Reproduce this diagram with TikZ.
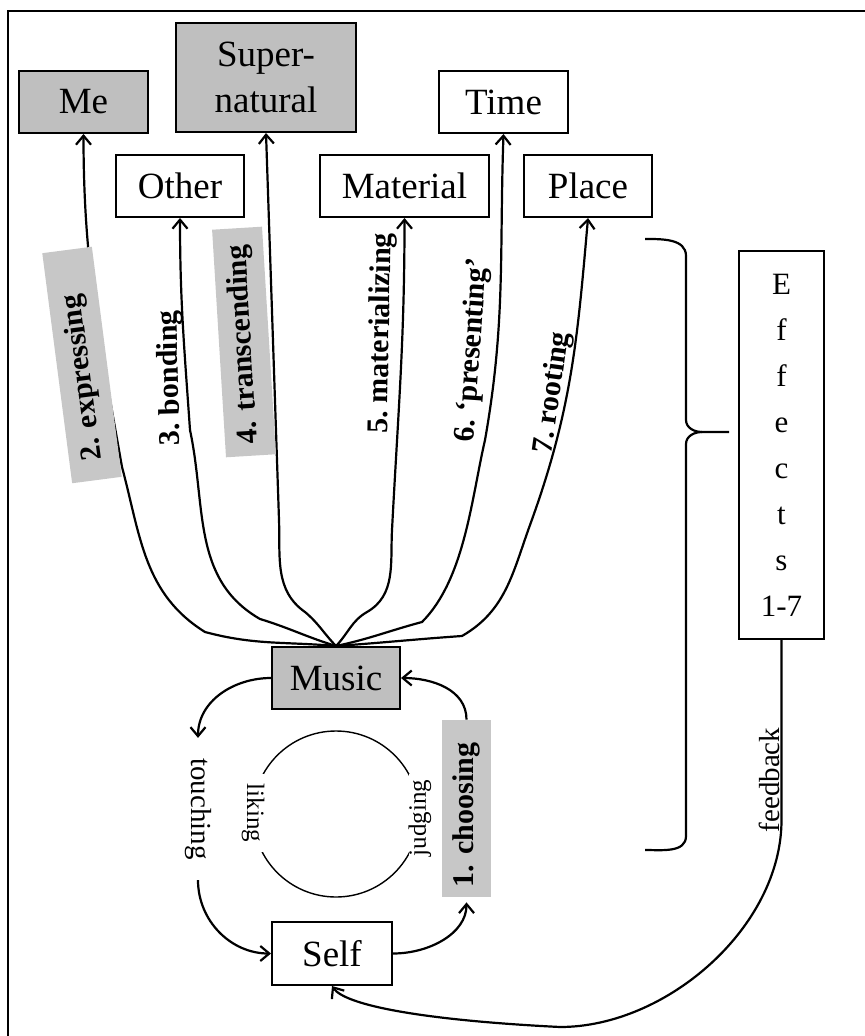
\documentclass[tikz,border=0pt]{standalone}
\usepackage{fontspec}
\setmainfont{Liberation Serif}
\usetikzlibrary{arrows.meta}
\begin{document}
\begin{tikzpicture}[x=0.5pt, y=0.5pt,
  box/.style={draw, line width=1pt, inner sep=0pt, align=center, font=\fontsize{18.5}{23}\selectfont},
  lab/.style={inner sep=0pt, font=\bfseries\fontsize{15}{18}\selectfont\frenchspacing},
  small/.style={inner sep=0pt, font=\fontsize{14.5}{17}\selectfont},
  tiny/.style={inner sep=0pt, fill=white, font=\fontsize{12.5}{15}\selectfont},
  tag/.style={lab, fill=black!22, align=left, inner ysep=0pt, minimum height=25pt},
  link/.style={line width=1.1pt, -{Straight Barb[length=4.5pt,width=7.5pt]}}]

  \useasboundingbox (0,0) rectangle (864,-1036);
  \draw[line width=1pt] (8,-1040) -- (8,-11) -- (870,-11);

  %boxes
  \foreach \name/\x/\y/\w/\h/\txt/\col in {Me/83.5/102/64.5/31/Me/black!25,
      Super/266/77.5/90/54.5/{Super-\\natural}/black!25,
      Other/180/186/64/31/Other/white,
      Material/404.5/186/84.5/31/Material/white,
      Time/503.5/102/64.5/31/Time/white,
      Place/588/186/64/31/Place/white,
      Music/336/678/64/31/Music/black!25,
      Self/332/953.5/60/31.5/Self/white}{
    \node[box, fill=\col, minimum width=\w pt, minimum height=\h pt] (\name) at (\x,-\y) {\txt};
  }
  \node[box, minimum width=42.5pt, minimum height=194pt, font=\fontsize{15.5}{23}\selectfont] (Eff) at (781.5,-445) {E\\f\\f\\e\\c\\t\\s\\1-7};

  %effects 1-7
  \draw[link] (Music.north) to[out=175,in=-15] (205,-632) to[out=148,in=-75] (122,-467) to[out=100,in=-90] (Me.south);
  \draw[link] (Music.north) to[out=163,in=-17] (260,-619) to[out=150,in=-78] (190,-430) to[out=94,in=-90] (Other.south);
  \draw[link] (Music.north) to[out=134,in=-40] (305,-612) to[out=145,in=-88] (279,-520) -- (Super.south);
  \draw[link] (Music.north) to[out=46,in=-150] (367,-612) to[out=30,in=-93] (392,-530) to[out=87,in=-90] (Material.south);
  \draw[link] (Music.north) to[out=12,in=-165] (422,-622) to[out=45,in=-103,looseness=0.8] (485,-440) to[out=80,in=-92] (Time.south);
  \draw[link] (Music.north) to[out=4,in=-176] (462,-636) to[out=30,in=-110] (530,-525) to[out=70,in=-95] (Place.south);

  \node[tag, rotate=97.4, text width=96pt, inner xsep=10pt] (expr) at (82,-365) {2. expressing};
  \node[lab, rotate=91.5] (bond) at (171,-378) {3. bonding};
  \node[tag, rotate=93.5, text width=102pt, inner xsep=6pt] (trans) at (244,-342) {4. transcending};
  \node[lab, rotate=89] (mat) at (382,-333) {5. materializing};
  \node[lab, rotate=86] (pres) at (473,-350) {6. `presenting'};
  \node[lab, rotate=82] (root) at (553,-393) {7. rooting};

  %brace
  \draw[line width=1.1pt] (645,-239) to[out=0,in=90] (686,-256) -- (686,-420) to[out=-90,in=180] (702,-432) -- (729,-432);
  \draw[line width=1.1pt] (702,-432) to[out=180,in=90] (686,-444) -- (686,-836) to[out=-90,in=0] (645,-850);

  %cycle
  \draw[line width=0.7pt] (336,-814) circle[radius=41.5pt];
  \node[tiny, rotate=-90, minimum width=39pt] (like) at (253,-813) {liking};
  \node[tiny, rotate=90, minimum width=44pt] (judge) at (420,-818) {judging};
  \node[small, rotate=-90, inner xsep=10pt] (touch) at (198,-809) {touching};
  \node[tag, rotate=90, minimum height=24.5pt, text width=78.5pt, inner xsep=5pt] (choose) at (466.5,-808.5) {1. choosing};

  \draw[link] (Music.west) to[out=180,in=90] (touch.west);
  \draw[link] (touch.east) to[out=-90,in=180] (Self.west);
  \draw[link, shorten >=2.5pt] (Self.east) to[out=0,in=-90] (choose.west);
  \draw[link] (choose.east) to[out=90,in=0] (Music.east);

  %feedback
  \draw[link] (Eff.south) -- (781.5,-820) to[out=-90,in=0,looseness=0.9] (560,-1027) .. controls (420,-1020) and (345,-1005) .. (Self.south);
  \node[small, rotate=90, anchor=south] (fb) at (780,-780) {feedback};

\end{tikzpicture}
\end{document}
